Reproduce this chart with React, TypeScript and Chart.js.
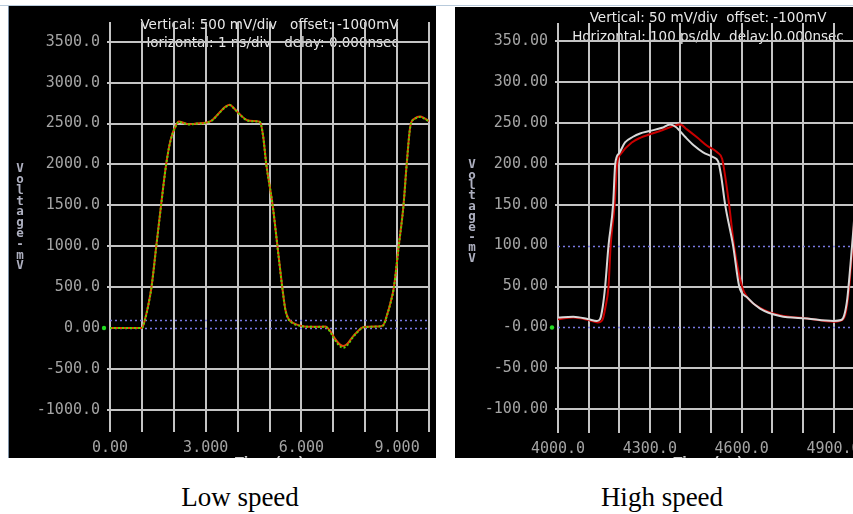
import React, { useEffect, useRef } from "react";
import { Chart, registerables } from "chart.js";

Chart.register(...registerables);

// ---------- Low speed panel data (time in ns, voltage in mV) ----------
const lowTime = [0, 0.5, 1.0, 1.1, 1.2, 1.3, 1.45, 1.6, 1.76, 1.9, 2.07, 2.16, 2.3, 2.5, 2.7, 3.0, 3.2, 3.4, 3.6, 3.75, 3.9, 4.1, 4.3, 4.5, 4.7, 4.8, 4.9, 5.0, 5.1, 5.25, 5.4, 5.5, 5.6, 5.75, 5.9, 6.1, 6.5, 6.75, 6.9, 7.05, 7.2, 7.31, 7.45, 7.6, 7.78, 7.9, 8.1, 8.3, 8.55, 8.7, 8.8, 8.9, 9.05, 9.2, 9.3, 9.42, 9.55, 9.72, 9.85, 10.0];
const lowRed = [0, 0, 0, 110, 280, 500, 1000, 1500, 2000, 2300, 2480, 2525, 2510, 2490, 2500, 2510, 2540, 2620, 2700, 2730, 2680, 2600, 2540, 2530, 2520, 2350, 2000, 1750, 1500, 1000, 500, 220, 110, 60, 35, 20, 15, 18, -36, -130, -200, -220, -190, -110, -36, 5, 15, 18, 30, 180, 320, 500, 1000, 1500, 2000, 2480, 2560, 2585, 2565, 2530];
const lowGreen = [0, 0, 0, 105, 275, 495, 990, 1495, 1995, 2295, 2475, 2520, 2505, 2488, 2498, 2508, 2538, 2618, 2695, 2725, 2678, 2598, 2538, 2528, 2518, 2345, 1995, 1745, 1495, 995, 495, 215, 105, 55, 32, 18, 14, 16, -45, -145, -220, -240, -205, -120, -40, 3, 14, 17, 28, 175, 315, 495, 995, 1495, 1995, 2475, 2555, 2580, 2560, 2525];

const lowXTicks = [0, 1, 2, 3, 4, 5, 6, 7, 8, 9, 10];
const lowXLabelValues = [0, 3, 6, 9];
const lowXLabelText = ["0.00", "3.000", "6.000", "9.000"];
const lowYTicks = [-1000, -500, 0, 500, 1000, 1500, 2000, 2500, 3000, 3500];
const lowYLabels = ["-1000.0", "-500.0", "0.00", "500.0", "1000.0", "1500.0", "2000.0", "2500.0", "3000.0", "3500.0"];
const lowRefLevels = [0, 100];
const lowHeader = ["Vertical: 500 mV/div   offset: -1000mV", "Horizontal: 1 ns/div   delay: 0.000nsec"];

// ---------- High speed panel data (time in ps, voltage in mV) ----------
const highWhiteTime = [4000, 4050, 4100, 4127, 4137, 4146, 4154, 4165, 4180, 4187, 4200, 4219, 4245, 4268, 4300, 4340, 4366, 4385, 4415, 4445, 4474, 4507, 4523, 4533, 4546, 4572, 4592, 4617, 4660, 4725, 4814, 4900, 4925, 4935, 4945, 4955, 4965, 4980];
const highWhite = [12, 13, 10, 8, 10, 25, 50, 100, 150, 200, 213, 226, 233, 237, 240, 244, 248, 245, 233, 222, 214, 208, 203, 185, 150, 100, 50, 37, 23, 14, 11, 8, 9, 15, 35, 75, 120, 200];
const highRedTime = [4000, 4050, 4100, 4130, 4145, 4155, 4165, 4172, 4185, 4193, 4205, 4241, 4270, 4300, 4340, 4376, 4399, 4421, 4455, 4487, 4520, 4536, 4546, 4559, 4575, 4601, 4620, 4660, 4725, 4814, 4900, 4928, 4940, 4950, 4960, 4970, 4980];
const highRed = [10, 12, 9, 6, 9, 25, 50, 100, 150, 200, 212, 226, 232, 236, 241, 246, 248, 242, 232, 222, 214, 206, 185, 150, 100, 50, 36, 24, 15, 11, 7, 9, 18, 45, 90, 140, 200];

const highXTicks = [4000, 4100, 4200, 4300, 4400, 4500, 4600, 4700, 4800, 4900];
const highXLabelValues = [4000, 4300, 4600, 4900];
const highXLabelText = ["4000.0", "4300.0", "4600.0", "4900.0"];
const highYTicks = [-100, -50, 0, 50, 100, 150, 200, 250, 300, 350];
const highYLabels = ["-100.00", "-50.00", "-0.00", "50.00", "100.00", "150.00", "200.00", "250.00", "300.00", "350.00"];
const highRefLevels = [0, 100];
const highHeader = ["Vertical: 50 mV/div  offset: -100mV", "Horizontal: 100 ps/div  delay: 0.000nsec"];

const yTitleChars = ["V", "o", "l", "t", "a", "g", "e", "-", "m", "V"];

type PanelCfg = {
  width: number;
  height: number;
  xMin: number;
  xMax: number;
  yMin: number;
  yMax: number;
  xTicks: number[];
  xLabelValues: number[];
  xLabelText: string[];
  yTicks: number[];
  yLabels: string[];
  refLevels: number[];
  header: string[];
  headerY: number[];
  xTitle: string;
  yTitleX: number;
  yTitleY: number;
  yTitleStep: number;
  yAxisWidth: number;
  xAxisHeight: number;
  padTop: number;
  padRight: number;
  datasets: any[];
};

const GRID = "#c4c4c4";
const TICK = "#a4a4a4";

function makeDecor(cfg: PanelCfg) {
  return {
    id: "decor",
    beforeDraw(chart: any) {
      const { ctx, chartArea } = chart;
      ctx.save();
      ctx.fillStyle = "#e8e8e8";
      ctx.font = '13.5px "DejaVu Sans"';
      ctx.textAlign = "center";
      ctx.textBaseline = "middle";
      const cx = (chartArea.left + chartArea.right) / 2;
      cfg.header.forEach((line, i) => ctx.fillText(line, cx, cfg.headerY[i]));
      ctx.restore();
    },
    beforeDatasetsDraw(chart: any) {
      const { ctx, chartArea, scales } = chart;
      ctx.save();
      ctx.strokeStyle = "#7878e0";
      ctx.lineWidth = 1.5;
      ctx.setLineDash([2, 3]);
      cfg.refLevels.forEach((v) => {
        const y = Math.round(scales.y.getPixelForValue(v)) + 0.5;
        ctx.beginPath();
        ctx.moveTo(chartArea.left, y);
        ctx.lineTo(chartArea.right, y);
        ctx.stroke();
      });
      ctx.restore();
    },
    afterDraw(chart: any) {
      const { ctx, chartArea, scales } = chart;
      ctx.save();
      // stacked y title
      ctx.fillStyle = "#aeb0c0";
      ctx.font = 'bold 12.5px "DejaVu Sans Mono"';
      ctx.textAlign = "center";
      ctx.textBaseline = "middle";
      yTitleChars.forEach((c, i) => ctx.fillText(c, cfg.yTitleX, cfg.yTitleY + i * cfg.yTitleStep));
      // x title (clipped by panel bottom)
      ctx.fillStyle = "#c8c8c8";
      ctx.font = 'bold 13px "DejaVu Sans"';
      ctx.textBaseline = "top";
      ctx.fillText(cfg.xTitle, (chartArea.left + chartArea.right) / 2, cfg.height - 2);
      // green marker at ground level
      const y0 = scales.y.getPixelForValue(0);
      ctx.fillStyle = "#22dd22";
      ctx.beginPath();
      ctx.arc(chartArea.left - 6, y0, 2.2, 0, Math.PI * 2);
      ctx.fill();
      ctx.restore();
    },
  };
}

function Panel({ cfg }: { cfg: PanelCfg }) {
  const ref = useRef<HTMLCanvasElement | null>(null);
  useEffect(() => {
    if (!ref.current) return;
    const chart = new Chart(ref.current, {
      type: "line",
      data: { datasets: cfg.datasets },
      options: {
        responsive: false,
        animation: false,
        events: [],
        layout: { padding: { top: cfg.padTop, right: cfg.padRight, left: 0, bottom: 0 } },
        plugins: { legend: { display: false }, tooltip: { enabled: false }, title: { display: false } },
        elements: { point: { radius: 0 } },
        scales: {
          x: {
            type: "linear",
            min: cfg.xMin,
            max: cfg.xMax,
            afterBuildTicks: (s: any) => {
              s.ticks = cfg.xTicks.map((v) => ({ value: v }));
            },
            afterFit: (s: any) => {
              s.height = cfg.xAxisHeight;
            },
            ticks: {
              autoSkip: false,
              maxRotation: 0,
              minRotation: 0,
              padding: 7,
              color: TICK,
              font: { family: "DejaVu Sans Mono", size: 15 },
              callback: (v: any) => {
                const idx = cfg.xLabelValues.indexOf(Number(v));
                return idx >= 0 ? cfg.xLabelText[idx] : "";
              },
            },
            grid: { color: GRID, lineWidth: 2, drawTicks: false },
            border: { display: false },
          },
          y: {
            type: "linear",
            min: cfg.yMin,
            max: cfg.yMax,
            afterBuildTicks: (s: any) => {
              s.ticks = cfg.yTicks.map((v) => ({ value: v }));
            },
            afterFit: (s: any) => {
              s.width = cfg.yAxisWidth;
            },
            ticks: {
              autoSkip: false,
              padding: 7,
              color: TICK,
              font: { family: "DejaVu Sans Mono", size: 15 },
              callback: (v: any) => {
                const idx = cfg.yTicks.indexOf(Number(v));
                return idx >= 0 ? cfg.yLabels[idx] : "";
              },
            },
            grid: {
              color: (c: any) => (c.tick && cfg.refLevels.includes(c.tick.value) ? "rgba(0,0,0,0)" : GRID),
              lineWidth: 2,
              drawTicks: true,
              tickLength: 3,
            },
            border: { display: false },
          },
        },
      },
      plugins: [makeDecor(cfg)],
    });
    return () => chart.destroy();
  }, [cfg]);
  return <canvas ref={ref} width={cfg.width} height={cfg.height} style={{ display: "block" }} />;
}

const lowCfg: PanelCfg = {
  width: 427,
  height: 452,
  xMin: 0,
  xMax: 10,
  yMin: -1271,
  yMax: 3741,
  xTicks: lowXTicks,
  xLabelValues: lowXLabelValues,
  xLabelText: lowXLabelText,
  yTicks: lowYTicks,
  yLabels: lowYLabels,
  refLevels: lowRefLevels,
  header: lowHeader,
  headerY: [19, 37],
  xTitle: "Time (ns)",
  yTitleX: 11,
  yTitleY: 163,
  yTitleStep: 10.8,
  yAxisWidth: 101,
  xAxisHeight: 26,
  padTop: 12,
  padRight: 2,
  datasets: [
    {
      data: lowTime.map((t, i) => ({ x: t, y: lowGreen[i] })),
      borderColor: "#5cd000",
      borderWidth: 2,
      borderDash: [2, 2],
      cubicInterpolationMode: "monotone",
      fill: false,
      order: 0,
    },
    {
      data: lowTime.map((t, i) => ({ x: t, y: lowRed[i] })),
      borderColor: "#e8400a",
      borderWidth: 2,
      cubicInterpolationMode: "monotone",
      fill: false,
      order: 1,
    },
  ],
};

const highCfg: PanelCfg = {
  width: 420,
  height: 451,
  xMin: 4000,
  xMax: 4980,
  yMin: -129,
  yMax: 372,
  xTicks: highXTicks,
  xLabelValues: highXLabelValues,
  xLabelText: highXLabelText,
  yTicks: highYTicks,
  yLabels: highYLabels,
  refLevels: highRefLevels,
  header: highHeader,
  headerY: [11, 30],
  xTitle: "Time (ps)",
  yTitleX: 17,
  yTitleY: 158,
  yTitleStep: 10.4,
  yAxisWidth: 103,
  xAxisHeight: 25,
  padTop: 3,
  padRight: 17,
  datasets: [
    {
      data: highWhiteTime.map((t, i) => ({ x: t, y: highWhite[i] })),
      borderColor: "#d8d8d8",
      borderWidth: 2,
      cubicInterpolationMode: "monotone",
      fill: false,
    },
    {
      data: highRedTime.map((t, i) => ({ x: t, y: highRed[i] })),
      borderColor: "#c80000",
      borderWidth: 2,
      cubicInterpolationMode: "monotone",
      fill: false,
    },
  ],
};

export default function App() {
  return (
    <div
      style={{
        position: "absolute",
        left: 0,
        top: 0,
        width: 853,
        height: 514,
        overflow: "hidden",
        background: "#ffffff",
      }}
    >
      <div style={{ position: "absolute", left: 0, top: 5, width: 853, height: 1, background: "#b8cadb" }} />
      <div
        style={{
          position: "absolute",
          left: 8,
          top: 6,
          width: 428,
          height: 452,
          background: "#000",
          overflow: "hidden",
          borderLeft: "1px solid #7f93a8",
          boxSizing: "border-box",
        }}
      >
        <div style={{ position: "absolute", left: 0, top: 0 }}>
          <Panel cfg={lowCfg} />
        </div>
      </div>
      <div
        style={{
          position: "absolute",
          left: 455,
          top: 7,
          width: 420,
          height: 451,
          background: "#000",
          overflow: "hidden",
        }}
      >
        <Panel cfg={highCfg} />
      </div>
      <div
        style={{
          position: "absolute",
          left: 140,
          width: 200,
          top: 484,
          textAlign: "center",
          fontFamily: '"Liberation Serif", serif',
          fontSize: 27,
          lineHeight: "27px",
          color: "#000",
        }}
      >
        Low speed
      </div>
      <div
        style={{
          position: "absolute",
          left: 562,
          width: 200,
          top: 484,
          textAlign: "center",
          fontFamily: '"Liberation Serif", serif',
          fontSize: 27,
          lineHeight: "27px",
          color: "#000",
        }}
      >
        High speed
      </div>
    </div>
  );
}
